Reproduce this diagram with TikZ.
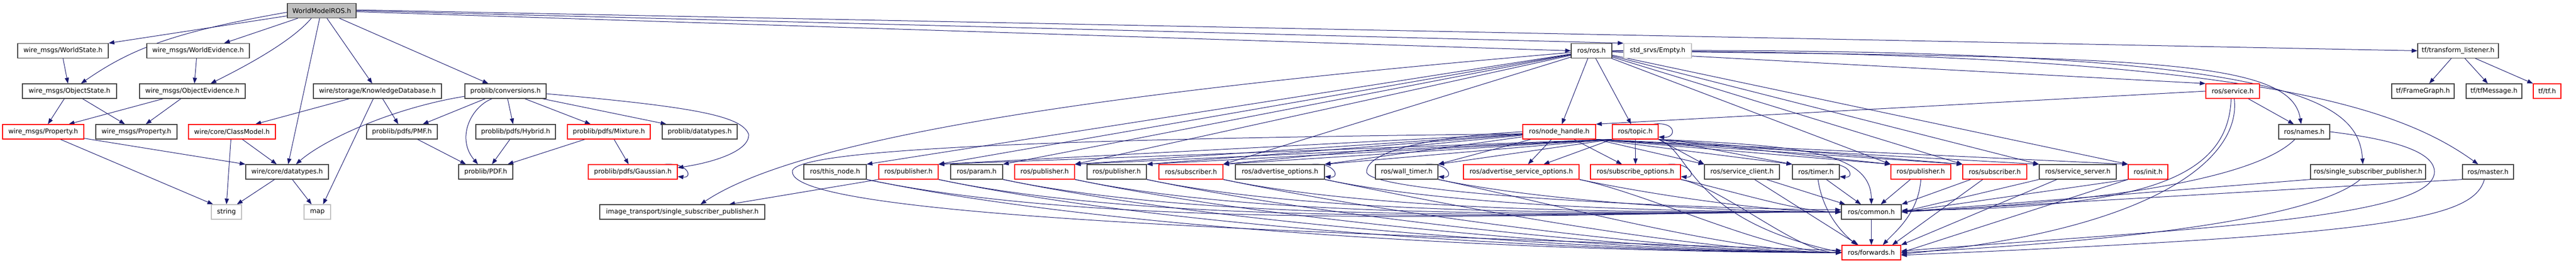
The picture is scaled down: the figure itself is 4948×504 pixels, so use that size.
\documentclass[tikz,border=0pt]{standalone}
\usepackage{fontspec}
\setmainfont{DejaVu Sans}
\usetikzlibrary{arrows.meta,backgrounds}

\begin{document}
\begin{tikzpicture}[x = 1pt, y = -1pt,
  box/.style = {draw = boxBlack, fill = white, line width = 1.2pt,
    minimum height = 28pt, inner sep = 0pt,
    font = \fontsize{12.6}{15}\selectfont},
  redbox/.style = {box, draw = boxRed},
  greybox/.style = {box, draw = boxGrey},
  edge/.style = {draw = edgeBlue, line width = 1pt,
    -{Triangle[length = 11pt, width = 8pt]}}]

  \definecolor{boxBlack}{HTML}{404040}
  \definecolor{boxRed}{HTML}{FF0000}
  \definecolor{boxGrey}{HTML}{BFBFBF}
  \definecolor{edgeBlue}{HTML}{191970}

  \useasboundingbox (0, 0) rectangle (4948, 504);

  % wire and problib headers
  \node[box, fill = boxGrey, minimum width = 132pt] (wmros) at (618, 20.5) {WorldModelROS.h};
  \node[box, minimum width = 174pt] (wstate) at (121, 97.5) {wire\_msgs/WorldState.h};
  \node[box, minimum width = 197pt] (wevid) at (380.5, 97.5) {wire\_msgs/WorldEvidence.h};
  \node[box, minimum width = 181pt] (ostate) at (133.5, 175) {wire\_msgs/ObjectState.h};
  \node[box, minimum width = 203pt] (oevid) at (369.5, 175) {wire\_msgs/ObjectEvidence.h};
  \node[box, minimum width = 246pt] (kdb) at (725, 175) {wire/storage/KnowledgeDatabase.h};
  \node[box, minimum width = 156pt] (conv) at (971, 175) {problib/conversions.h};
  \node[redbox, minimum width = 156pt] (propR) at (83, 253) {wire\_msgs/Property.h};
  \node[box, minimum width = 156pt] (propB) at (262, 253) {wire\_msgs/Property.h};
  \node[redbox, minimum width = 167pt] (classmodel) at (445.5, 253) {wire/core/ClassModel.h};
  \node[box, minimum width = 136pt] (pmf) at (772, 253) {problib/pdfs/PMF.h};
  \node[box, minimum width = 153pt] (hybrid) at (990.5, 253) {problib/pdfs/Hybrid.h};
  \node[redbox, minimum width = 159pt] (mixture) at (1169.5, 253) {problib/pdfs/Mixture.h};
  \node[box, minimum width = 144pt] (pdt) at (1344, 253) {problib/datatypes.h};
  \node[box, minimum width = 159pt] (wdt) at (551.5, 330) {wire/core/datatypes.h};
  \node[box, minimum width = 104pt] (pdf) at (933, 330) {problib/PDF.h};
  \node[redbox, minimum width = 171pt] (gauss) at (1215.5, 330) {problib/pdfs/Gaussian.h};
  \node[greybox, minimum width = 58pt] (string) at (435, 407) {string};
  \node[greybox, minimum width = 51pt] (map) at (609.5, 407) {map};
  \node[box, minimum width = 317pt] (itssp) at (1310.5, 407) {image\_transport/single\_subscriber\_publisher.h};

  % ros and tf headers
  \node[box, minimum width = 78pt] (rosros) at (3057, 97.5) {ros/ros.h};
  \node[greybox, minimum width = 130pt] (empty) at (3184, 97.5) {std\_srvs/Empty.h};
  \node[box, minimum width = 155pt] (tflist) at (4721.5, 97.5) {tf/transform\_listener.h};
  \node[redbox, minimum width = 103pt] (service) at (4288.5, 175) {ros/service.h};
  \node[box, minimum width = 120pt] (framegraph) at (4654, 175) {tf/FrameGraph.h};
  \node[box, minimum width = 107pt] (tfmsg) at (4790.5, 175) {tf/tfMessage.h};
  \node[redbox, minimum width = 53pt] (tftf) at (4892.5, 175) {tf/tf.h};
  \node[redbox, minimum width = 140pt] (nodehandle) at (2995, 253) {ros/node\_handle.h};
  \node[redbox, minimum width = 88pt] (topic) at (3141, 253) {ros/topic.h};
  \node[box, minimum width = 98pt] (names) at (4426, 253) {ros/names.h};
  \node[box, minimum width = 120pt] (thisnode) at (1604, 330) {ros/this\_node.h};
  \node[redbox, minimum width = 114pt] (pubA) at (1745, 330) {ros/publisher.h};
  \node[box, minimum width = 100pt] (param) at (1876, 330) {ros/param.h};
  \node[redbox, minimum width = 115pt] (pubB) at (2006.5, 330) {ros/publisher.h};
  \node[box, minimum width = 114pt] (pubC) at (2145, 330) {ros/publisher.h};
  \node[redbox, minimum width = 123pt] (subA) at (2287.5, 330) {ros/subscriber.h};
  \node[box, minimum width = 171pt] (advopt) at (2458.5, 330) {ros/advertise\_options.h};
  \node[box, minimum width = 120pt] (walltimer) at (2702, 330) {ros/wall\_timer.h};
  \node[redbox, minimum width = 222pt] (advsrv) at (2922, 330) {ros/advertise\_service\_options.h};
  \node[redbox, minimum width = 173pt] (subopt) at (3141.5, 330) {ros/subscribe\_options.h};
  \node[box, minimum width = 144pt] (srvclient) at (3346, 330) {ros/service\_client.h};
  \node[box, minimum width = 90pt] (timer) at (3488, 330) {ros/timer.h};
  \node[redbox, minimum width = 115pt] (pubD) at (3689.5, 330) {ros/publisher.h};
  \node[redbox, minimum width = 123pt] (subB) at (3831.5, 330) {ros/subscriber.h};
  \node[box, minimum width = 148pt] (srvserver) at (3991, 330) {ros/service\_server.h};
  \node[redbox, minimum width = 76pt] (init) at (4126, 330) {ros/init.h};
  \node[box, minimum width = 221pt] (ssp) at (4548.5, 330) {ros/single\_subscriber\_publisher.h};
  \node[box, minimum width = 98pt] (master) at (4779, 330) {ros/master.h};
  \node[box, minimum width = 115pt] (common) at (3594.5, 407) {ros/common.h};
  \node[redbox, minimum width = 113pt] (forwards) at (3594.5, 485) {ros/forwards.h};

  \coordinate (gaussbend) at (1438, 258);
  \coordinate (wtbend) at (2625, 330);
  \coordinate (tnbend) at (1522, 330);
  \coordinate (namesbend) at (4676, 330);

  \begin{pgfonlayer}{background}
  % from WorldModelROS.h
  \draw[edge] ([yshift = -10pt]wmros.west) -- (wstate.north east);
  \draw[edge] ([yshift = -3pt]wmros.west) .. controls (330, 62) and (250, 95) .. ([xshift = 22pt]ostate.north);
  \draw[edge] ([xshift = -46pt]wmros.south) -- ([xshift = 50pt]wevid.north);
  \draw[edge] ([xshift = -20pt]wmros.south) .. controls (560, 80) and (470, 128) .. ([xshift = 35pt]oevid.north);
  \draw[edge] ([xshift = -4pt]wmros.south) -- ([xshift = 2pt]wdt.north);
  \draw[edge] ([xshift = 10pt]wmros.south) -- ([xshift = -10pt]kdb.north);
  \draw[edge] ([xshift = 34pt]wmros.south) -- ([xshift = -33pt]conv.north);
  \draw[edge] ([yshift = 1.5pt]wmros.east) -- (tflist.west);
  \draw[edge] (wmros.east) -- (empty.north west);
  \draw[edge] ([yshift = -2pt]wmros.east) -- (rosros.west);

  % wire side
  \draw[edge] (wstate.south) -- ([xshift = -3pt]ostate.north);
  \draw[edge] ([xshift = -3pt]wevid.south) -- ([xshift = 4pt]oevid.north);
  \draw[edge] ([xshift = -10pt]ostate.south) -- ([xshift = 9pt]propR.north);
  \draw[edge] ([xshift = 25pt]ostate.south) -- ([xshift = -22pt]propB.north);
  \draw[edge] ([xshift = -56pt]oevid.south) -- ([xshift = 49pt]propR.north);
  \draw[edge] ([xshift = -22pt]oevid.south) -- ([xshift = 18pt]propB.north);
  \draw[edge] ([xshift = 33pt]propR.south) -- ([xshift = 4pt]string.north west);
  \draw[edge] ([yshift = 2pt]propR.south east) -- (wdt.north west);
  \draw[edge] ([xshift = -54pt]kdb.south) -- ([xshift = 45pt]classmodel.north);
  \draw[edge] ([xshift = -8pt]kdb.south) -- ([xshift = 11pt]map.north);
  \draw[edge] ([xshift = 10pt]kdb.south) -- ([xshift = -7pt]pmf.north);
  \draw[edge] ([xshift = -2pt]classmodel.south) -- (string.north);
  \draw[edge] ([xshift = 20pt]classmodel.south) -- ([xshift = -20pt]wdt.north);
  \draw[edge] ([xshift = -24pt]wdt.south) -- ([xshift = 20pt]string.north);
  \draw[edge] ([xshift = 10pt]wdt.south) -- ([xshift = -11pt]map.north);

  % problib side
  \draw[edge] ([yshift = -10pt]conv.west) .. controls (750, 208) and (620, 270) .. ([xshift = 17pt]wdt.north);
  \draw[edge] ([xshift = -39pt]conv.south) -- ([xshift = 40pt]pmf.north);
  \draw[edge] ([xshift = -26pt]conv.south) .. controls (905, 205) and (875, 265) .. ([xshift = -15pt]pdf.north);
  \draw[edge] ([xshift = 4pt]conv.south) -- ([xshift = -5pt]hybrid.north);
  \draw[edge] ([xshift = 37pt]conv.south) -- ([xshift = -35pt]mixture.north);
  \draw[edge] ([xshift = 71pt]conv.south) -- ([xshift = -64pt]pdt.north);
  \draw[edge] ([yshift = -5pt]conv.east) .. controls (1330, 205) and (1425, 222) .. (gaussbend)
    .. controls (1440, 290) and (1370, 312) .. ([yshift = 8pt]gauss.east);
  \draw[edge] ([xshift = 30pt]pmf.south) -- ([xshift = -38pt]pdf.north);
  \draw[edge] ([xshift = -11pt]hybrid.south) -- ([xshift = 12pt]pdf.north);
  \draw[edge] ([xshift = -46pt]mixture.south) -- ([xshift = 42pt]pdf.north);
  \draw[edge] ([xshift = 10pt]mixture.south) -- ([xshift = -8pt]gauss.north);

  % tf side
  \draw[edge] ([xshift = -13pt]tflist.south) -- ([xshift = 12pt]framegraph.north);
  \draw[edge] ([xshift = 13pt]tflist.south) -- ([xshift = -12pt]tfmsg.north);
  \draw[edge] ([xshift = 33pt]tflist.south) -- (tftf.north west);

  % from ros/ros.h
  \draw[edge] ([xshift = -7pt]rosros.south) -- ([xshift = 5pt]nodehandle.north);
  \draw[edge] ([xshift = 8pt]rosros.south) -- ([xshift = -8pt]topic.north);
  \draw[edge] (rosros) -- (service.north west);
  \draw[edge] (rosros) .. controls (4100, 110) and (4400, 110) .. ([xshift = -6pt]names.north);
  \draw[edge] (rosros) .. controls (4400, 90) and (4530, 190) .. ([xshift = -10pt]ssp.north);
  \draw[edge] (rosros) .. controls (4300, 100) and (4600, 200) .. ([xshift = -19pt]master.north);
  \foreach \dst in {pubD, subB, srvserver, init}
    \draw[edge] (rosros) -- (\dst.north west);
  \foreach \dst in {thisnode, pubA, param, pubB, subA}
    \draw[edge] (rosros) -- (\dst.north east);
  \draw[edge] (rosros) .. controls (2200, 170) and (1550, 255) .. ([xshift = 35pt]itssp.north);
  \draw[edge] (pubA.south west) -- ([xshift = 90pt]itssp.north);

  % from ros/node_handle.h
  \foreach \dst in {pubA, pubB, pubC, subA, advopt, walltimer}
    \draw[edge] (nodehandle) -- (\dst.north east);
  \foreach \dst in {srvclient, timer, pubD, subB, srvserver, init}
    \draw[edge] (nodehandle.south east) -- (\dst.north west);
  \draw[edge] ([xshift = -15pt]nodehandle.south) -- ([xshift = 13pt]advsrv.north);
  \draw[edge] ([xshift = 28pt]nodehandle.south) -- ([xshift = -26pt]subopt.north);
  \draw[edge] (nodehandle.west) .. controls (2750, 262) and (2625, 290) .. (wtbend)
    .. controls (2625, 370) and (3200, 400) .. ([yshift = 4pt]common.west);
  \draw[edge] ([yshift = -4pt]nodehandle.west) .. controls (2200, 265) and (1515, 280) .. (tnbend)
    .. controls (1522, 420) and (2600, 450) .. ([yshift = 4pt]forwards.west);

  % from ros/topic.h
  \foreach \dst in {pubA, pubB, pubC, subA, advopt, walltimer}
    \draw[edge] (topic.south west) -- (\dst.north east);
  \foreach \dst in {srvclient, timer, pubD, subB}
    \draw[edge] (topic.south east) -- (\dst.north west);
  \draw[edge] (topic.south west) -- ([xshift = 43pt]advsrv.north);
  \draw[edge] (topic.south) -- (subopt.north);
  \draw[edge] (topic.south east) .. controls (3450, 280) and (3594, 290) .. (common.north);
  \draw[edge] (topic.south east) .. controls (3250, 290) and (3240, 420) .. (forwards.west);
  \draw[edge] ([xshift = -10pt]topic.north east) .. controls +(45, -6) and +(35, 2) .. ([yshift = -10pt]topic.east);

  % from ros/service.h and ros/names.h
  \draw[edge] (service.west) -- (nodehandle.north east);
  \draw[edge] ([xshift = 30pt]service.south) -- ([xshift = -20pt]names.north);
  \draw[edge] ([xshift = -3pt]service.south) .. controls (4280, 350) and (4100, 400) .. ([yshift = 3pt]common.east);
  \draw[edge] ([xshift = 3pt]service.south) .. controls (4305, 300) and (4150, 440) .. ([yshift = -3pt]forwards.east);
  \draw[edge] ([xshift = -18pt]names.south) .. controls +(-106, 106) and +(150, -8) .. (common.east);
  \draw[edge] (names.east) .. controls (4600, 268) and (4676, 292) .. (namesbend)
    .. controls (4676, 420) and (4200, 440) .. ([yshift = 3pt]forwards.east);

  % down to ros/common.h and ros/forwards.h
  \foreach \src/\d in {thisnode/500, pubA/470, param/435, pubB/400, pubC/360,
      subA/320, advopt/270, walltimer/210, advsrv/140, subopt/85} {
    \draw[edge] (\src.south east) .. controls +(\d, {0.21*\d}) and +(-\d, 0) .. (common.west);
    \draw[edge] (\src.south east) .. controls +(\d, {0.21*\d}) and +(-\d, 0) .. (forwards.west);
  }
  \draw[edge] ([xshift = 47pt]srvclient.south) -- ([xshift = -50pt]common.north);
  \draw[edge] ([xshift = 24pt]srvclient.south) -- ([xshift = -25pt]forwards.north);
  \draw[edge] ([xshift = 20pt]timer.south) -- ([xshift = -20pt]common.north);
  \draw[edge] ([xshift = 4pt]timer.south) .. controls (3500, 400) and (3530, 440) .. ([xshift = -28pt]forwards.north);
  \draw[edge] ([xshift = -20pt]pubD.south) -- ([xshift = 18pt]common.north);
  \draw[edge] (pubD.south) .. controls (3685, 410) and (3640, 445) .. ([xshift = 22pt]forwards.north);
  \draw[edge] ([xshift = -46pt]subB.south) -- (common.north east);
  \draw[edge] ([xshift = -23pt]subB.south) -- ([xshift = 40pt]forwards.north);
  \draw[edge] (srvserver.south west) -- (common.east);
  \draw[edge] ([xshift = -40pt]srvserver.south) -- (forwards.north east);
  \draw[edge] (init.south west) -- (common.east);
  \draw[edge] (init.south west) -- (forwards.east);
  \draw[edge] (ssp.south west) -- (common.east);
  \draw[edge] ([xshift = -15pt]ssp.south) .. controls +(-120, 101) and +(157, -8) .. (forwards.east);
  \draw[edge] (master.south west) -- (common.east);
  \draw[edge] ([xshift = -7pt]master.south) .. controls (4750, 420) and (4600, 450) .. ([yshift = -5pt]forwards.east);
  \draw[edge] (common) -- (forwards);

  % self loops
  \foreach \n in {gauss, advopt, walltimer, subopt, timer}
    \draw[edge] ([xshift = -25pt]\n.north east) .. controls +(45, -4) and +(30, 3) .. ([yshift = -9pt]\n.east);
  \end{pgfonlayer}
\end{tikzpicture}
\end{document}
